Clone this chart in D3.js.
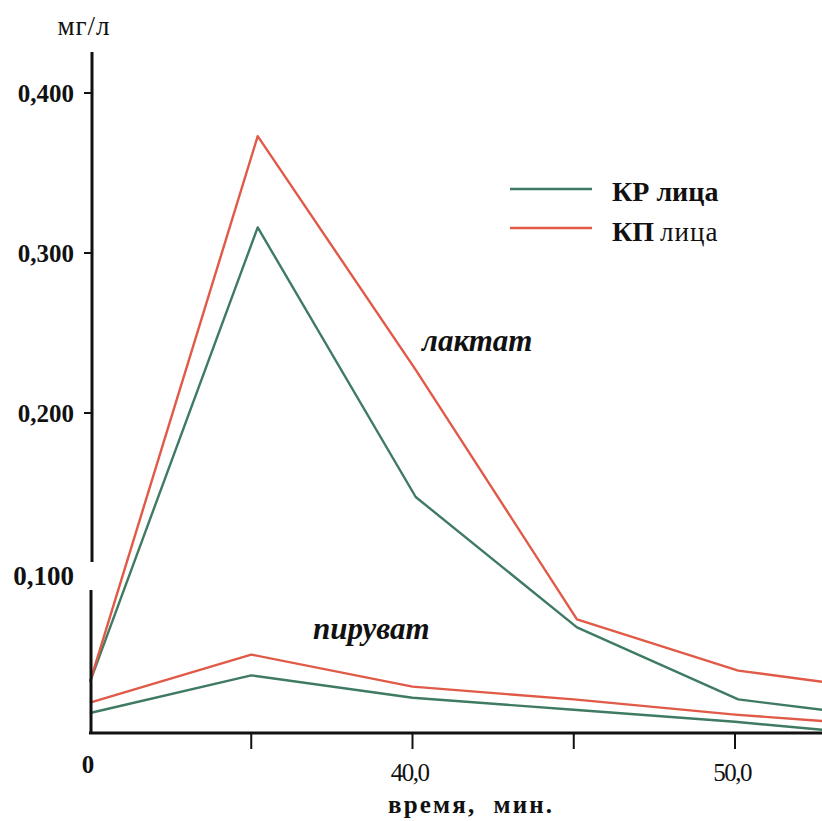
<!DOCTYPE html>
<html><head><meta charset="utf-8">
<script src="https://cdn.jsdelivr.net/npm/d3@7"></script>
<style>body{margin:0;background:#fff}svg{display:block}</style>
</head><body>
<script>
// ---- data ----
const timesLactate  = [30, 35.2, 40.1, 45.1, 50.1, 52.7];
const lactateKR     = [0.032, 0.316, 0.1475, 0.066, 0.021, 0.0145];
const lactateKP     = [0.032, 0.373, 0.227, 0.071, 0.039, 0.032];
const timesPyruvate = [30, 35, 40, 45, 50, 52.7];
const pyruvateKR    = [0.0125, 0.036, 0.022, 0.0145, 0.007, 0.002];
const pyruvateKP    = [0.019, 0.049, 0.029, 0.021, 0.0115, 0.0075];
const xTicks        = [30, 35, 40, 45, 50];
const xTickLabels   = ["0", "", "40,0", "", "50,0"];
const yTicks        = [0.4, 0.3, 0.2, 0.1];
const yTickLabels   = ["0,400", "0,300", "0,200", "0,100"];
const seriesNames   = ["КР", "КП"];

const W = 822, H = 821;
const svg = d3.select("body").append("svg").attr("width", W).attr("height", H);
const x = d3.scaleLinear().domain([30, 50]).range([90, 735]);
const y = d3.scaleLinear().domain([0, 0.4]).range([733, 93]);
const RED = "#e05a47", GREEN = "#3f7a62";
const serif = "'Liberation Serif','Times New Roman',serif";

svg.append("defs").append("clipPath").attr("id","c").append("rect")
  .attr("x",0).attr("y",0).attr("width",W).attr("height",H);

const line = d3.line().x(d => x(d[0])).y(d => y(d[1]));
const g = svg.append("g").attr("clip-path","url(#c)");
function draw(ts, vs, col){
  g.append("path").datum(ts.map((t,i)=>[t,vs[i]]))
   .attr("d", line).attr("fill","none").attr("stroke",col)
   .attr("stroke-width",2.4).attr("stroke-linejoin","round");
}
draw(timesPyruvate, pyruvateKR, GREEN);
draw(timesPyruvate, pyruvateKP, RED);
draw(timesLactate, lactateKR, GREEN);
draw(timesLactate, lactateKP, RED);

// y axis (with break around 0,100)
const ax = svg.append("g").attr("stroke","#111").attr("stroke-width",3);
ax.append("line").attr("x1",92).attr("x2",92).attr("y1",52).attr("y2",y(0.1)-11);
ax.append("line").attr("x1",91).attr("x2",91).attr("y1",y(0.1)+17).attr("y2",734);
// x axis
ax.append("line").attr("x1",89).attr("x2",W).attr("y1",733).attr("y2",733);

// y ticks
const yt = svg.append("g");
yt.selectAll("line").data(yTicks.filter(v=>v!==0.1)).join("line")
  .attr("x1",84).attr("x2",92).attr("y1",d=>y(d)).attr("y2",d=>y(d))
  .attr("stroke","#111").attr("stroke-width",2);
yt.selectAll("text").data(yTicks).join("text")
  .attr("x",74).attr("y",d=>y(d) + (d===0.1 ? 3 : 0)).attr("dy","0.35em")
  .attr("text-anchor","end").attr("font-family",serif).attr("font-weight","bold")
  .attr("font-size",d=> d===0.1 ? 27 : 25).attr("fill","#111")
  .text((d,i)=>yTickLabels[i]);

// x ticks
const xt = svg.append("g");
xt.selectAll("line").data(xTicks.slice(1)).join("line")
  .attr("x1",d=>x(d)).attr("x2",d=>x(d)).attr("y1",733).attr("y2",749)
  .attr("stroke","#111").attr("stroke-width",2);
xt.selectAll("text").data(xTicks).join("text")
  .attr("x",(d,i)=> i===0 ? x(d)-2 : x(d)-3)
  .attr("y",(d,i)=> i===0 ? 773 : 781)
  .attr("text-anchor","middle").attr("font-family",serif)
  .attr("font-weight",(d,i)=> i===0 ? "bold" : "normal")
  .attr("letter-spacing",(d,i)=> i===0 ? 0 : -1.5)
  .attr("font-size",25).attr("fill","#111")
  .text((d,i)=>xTickLabels[i]);

// axis titles
svg.append("text").attr("x",84).attr("y",35).attr("text-anchor","middle")
  .attr("font-family",serif).attr("font-size",27).attr("letter-spacing",1)
  .attr("fill","#111").text("мг/л");
svg.append("text").attr("x",388).attr("y",813).attr("xml:space","preserve")
  .attr("font-family",serif).attr("font-weight","bold").attr("font-size",25)
  .attr("letter-spacing",2.2).attr("fill","#111").text("время,  мин.");

// annotations
svg.append("text").attr("x",422).attr("y",351).attr("font-family",serif)
  .attr("font-weight","bold").attr("font-style","italic").attr("font-size",31)
  .attr("fill","#111").text("лактат");
svg.append("text").attr("x",313).attr("y",639).attr("font-family",serif)
  .attr("font-weight","bold").attr("font-style","italic").attr("font-size",31)
  .attr("fill","#111").text("пируват");

// legend
const leg = svg.append("g");
[GREEN, RED].forEach((c,i)=>{
  const yy = 189 + i*39;
  leg.append("line").attr("x1",510).attr("x2",592).attr("y1",yy).attr("y2",yy)
    .attr("stroke",c).attr("stroke-width",2.6);
});
leg.append("text").attr("x",612).attr("y",201).attr("font-family",serif)
  .attr("font-size",28).attr("fill","#111")
  .call(t=>{ t.append("tspan").attr("font-weight","bold").text(seriesNames[0]+" ");
             t.append("tspan").attr("font-weight","bold").text("лица"); });
leg.append("text").attr("x",612).attr("y",241).attr("font-family",serif)
  .attr("font-size",28).attr("fill","#111")
  .call(t=>{ t.append("tspan").attr("font-weight","bold").text(seriesNames[1]);
             t.append("tspan").attr("font-size",27).attr("dx",6).attr("letter-spacing",1).text("лица"); });
</script>
</body></html>
